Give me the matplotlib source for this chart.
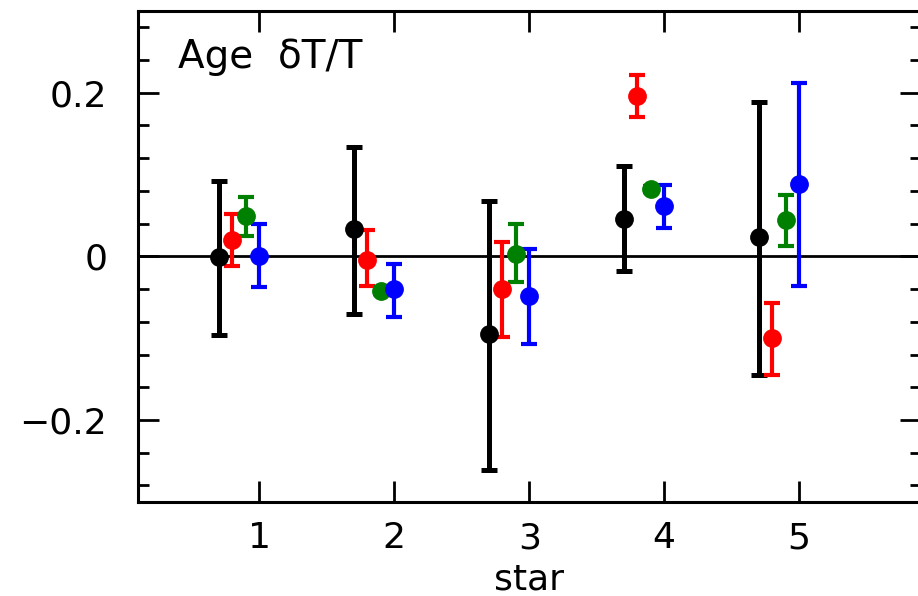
import numpy as np
import matplotlib
matplotlib.use('Agg')
import matplotlib.pyplot as plt
from matplotlib.ticker import MultipleLocator

# star index and the four methods, offset around each star
stars = [1, 2, 3, 4, 5]
offsets = [-0.3, -0.2, -0.1, 0.0]
colors = ['black', 'red', 'green', 'blue']

# relative age difference dT/T for each method and star
dT_black = [-0.001, 0.033, -0.095, 0.046, 0.023]
dT_red = [0.020, -0.004, -0.040, 0.196, -0.100]
dT_green = [0.049, -0.042, 0.003, 0.082, 0.044]
dT_blue = [0.000, -0.040, -0.049, 0.062, 0.088]

# upper / lower limits of the error bars
hi_black = [0.092, 0.134, 0.068, 0.110, 0.189]
lo_black = [-0.096, -0.070, -0.261, -0.018, -0.145]
hi_red = [0.052, 0.032, 0.017, 0.222, -0.057]
lo_red = [-0.012, -0.036, -0.099, 0.170, -0.145]
hi_green = [0.073, -0.038, 0.039, 0.086, 0.075]
lo_green = [0.025, -0.046, -0.032, 0.078, 0.012]
hi_blue = [0.039, -0.009, 0.009, 0.087, 0.212]
lo_blue = [-0.038, -0.074, -0.107, 0.035, -0.036]

series = [
  (dT_black, hi_black, lo_black),
  (dT_red, hi_red, lo_red),
  (dT_green, hi_green, lo_green),
  (dT_blue, hi_blue, lo_blue),
]

plt.rcParams['font.family'] = ['DejaVu Sans']
fig = plt.figure(figsize=(9.18, 5.96), dpi=100)
ax = fig.add_axes([0.150, 0.158, 0.853, 0.824])

ax.axhline(0, color='black', lw=2.0, zorder=1)

for (val, hi, lo), off, col in zip(series, offsets, colors):
  val = np.array(val)
  x = np.array(stars) + off
  yerr = [val - np.array(lo), np.array(hi) - val]
  lw = 3.6 if col == 'black' else 3.0
  ax.errorbar(x, val, yerr=yerr, fmt='o', color=col, ms=12.5, elinewidth=lw,
              capsize=6, capthick=lw, zorder=3)

ax.set_xlim(0.1, 5.9)
ax.set_ylim(-0.3, 0.3)
ax.set_xticks(stars)
ax.yaxis.set_minor_locator(MultipleLocator(0.04))
ax.set_yticks([-0.2, 0, 0.2])
ax.set_yticklabels(['\u22120.2', '0', '0.2'])

ax.tick_params(axis='both', which='major', direction='in', length=15, width=2,
               top=True, right=True, labelsize=26)
ax.tick_params(axis='y', which='major', pad=22)
ax.tick_params(axis='x', which='major', pad=14)
ax.tick_params(axis='y', which='minor', direction='in', length=8, width=2,
               right=True, left=True)
ax.tick_params(axis='x', which='minor', bottom=False, top=False)
for s in ax.spines.values():
  s.set_linewidth(2.2)

ax.set_xlabel('star', fontsize=26, labelpad=5)
ax.text(0.052, 0.905, 'Age  \u03b4T/T', transform=ax.transAxes, fontsize=28,
        ha='left', va='center')

fig.savefig('out.png', dpi=100)
